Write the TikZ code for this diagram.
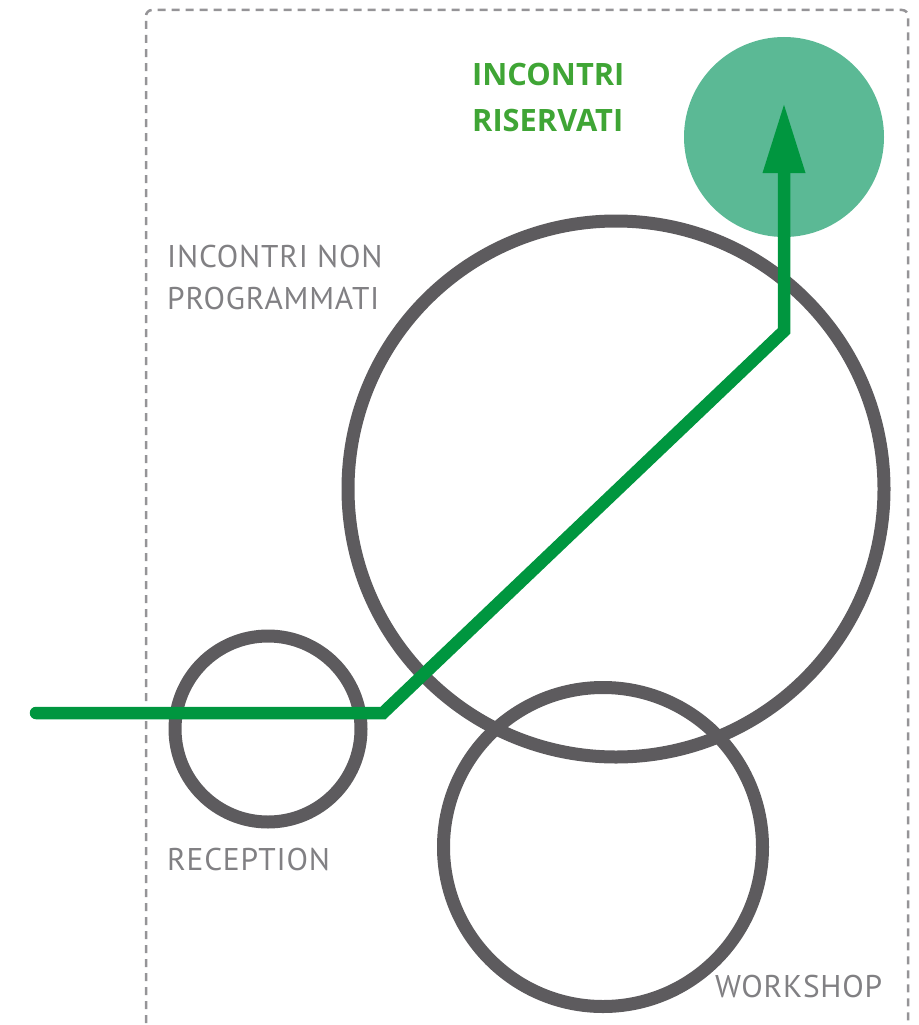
\documentclass[tikz,border=0pt]{standalone}
\usepackage{fontspec}
\setmainfont[LetterSpace=2.5]{PT Sans}
\newfontfamily\headfont{Open Sans}
\usetikzlibrary{arrows.meta}

\definecolor{ringgray}{HTML}{5D5B5E}
\definecolor{textgray}{HTML}{818083}
\definecolor{framegray}{HTML}{959497}
\definecolor{pathgreen}{HTML}{00963F}
\definecolor{spotgreen}{HTML}{5BB995}
\definecolor{labelgreen}{HTML}{3FA535}

\begin{document}
\begin{tikzpicture}[x=1pt,y=-1pt,>={Triangle[width=39pt,length=71pt]},
    ring/.style={circle,draw=ringgray,line width=13pt,inner sep=0pt},
    spot/.style={circle,fill=spotgreen,inner sep=0pt,minimum size=200pt},
    grey label/.style={anchor=north west,inner sep=0pt,align=left,text=textgray,font=\fontsize{31.4}{42}\selectfont},
    green label/.style={anchor=north west,inner sep=0pt,align=left,text=labelgreen,font=\headfont\bfseries\fontsize{30.8}{46}\selectfont},
    route/.style={draw=pathgreen,line width=12.5pt,line cap=round,miter limit=10}]
                \useasboundingbox (0,0) rectangle (918,1025);

                % dashed frame, open at the bottom
                \draw[framegray,line width=2.5pt,dash pattern=on 8pt off 6pt,rounded corners=6pt]
                    (146,1023) -- (146,10) -- (908,10) -- (908,1023);

                \node[spot] (riservati) at (784,137) {};
                \node[ring,minimum size=536pt] (nonprog) at (616,489) {};
                \node[ring,minimum size=186pt] (reception) at (268,729) {};
                \node[ring,minimum size=319pt] (workshop) at (603,847) {};

                \node[green label] (t1) at (472,63) {INCONTRI\\RISERVATI};
                \node[grey label] (t2) at (167,245) {INCONTRI NON\\PROGRAMMATI};
                \node[grey label] (t3) at (167,848) {RECEPTION};
                \node[grey label] (t4) at (715,975) {WORKSHOP};

                \coordinate (start) at (36,713);
                \coordinate (bend1) at (383,713);
                \coordinate (bend2) at (784,331);
                \coordinate (tip) at (784,102);

                \draw[route,->] (start) -- (bend1) -- (bend2) -- (tip);
            \end{tikzpicture}
\end{document}
